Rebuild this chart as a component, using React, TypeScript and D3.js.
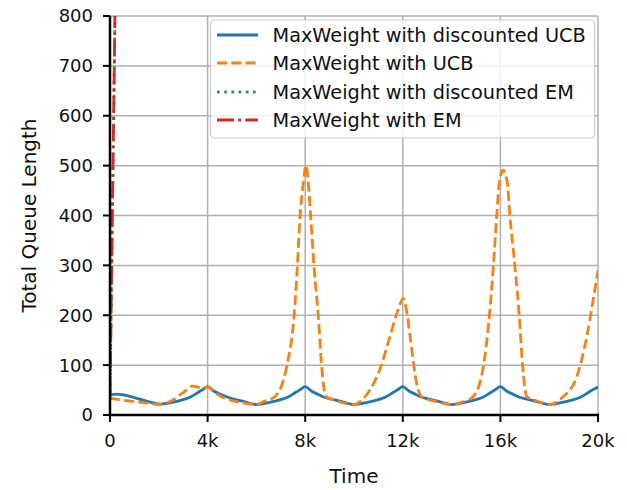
import React from "react";
import * as d3 from "d3";

const xTicks = [0, 4000, 8000, 12000, 16000, 20000];
const xTickLabels = ["0", "4k", "8k", "12k", "16k", "20k"];
const yTicks = [0, 100, 200, 300, 400, 500, 600, 700, 800];

const seriesNames = [
  "MaxWeight with discounted UCB",
  "MaxWeight with UCB",
  "MaxWeight with discounted EM",
  "MaxWeight with EM",
];

const discUcbT = [0, 250, 500, 1000, 1500, 2000, 2500, 3000, 3300, 3600, 3800, 4000,
  4250, 4500, 4750, 5000, 5500, 6000, 6500, 7000, 7300, 7600, 7800, 8000,
  8250, 8500, 8750, 9000, 9500, 10000, 10500, 11000, 11300, 11600, 11800, 12000,
  12250, 12500, 12750, 13000, 13500, 14000, 14500, 15000, 15300, 15600, 15800, 16000,
  16250, 16500, 16750, 17000, 17500, 18000, 18500, 19000, 19300, 19600, 19800, 20000];
const discUcbV = [40, 42, 41, 35, 28, 22, 25, 31, 36, 45, 51, 57,
  48, 42, 37, 33, 27, 21, 25, 31, 36, 45, 51, 57,
  48, 42, 36, 33, 27, 21, 25, 31, 36, 45, 51, 57,
  48, 42, 36, 33, 27, 21, 25, 31, 36, 45, 51, 57,
  48, 42, 36, 33, 27, 21, 25, 31, 36, 45, 51, 56];

const ucbT = [0, 500, 1000, 1500, 2000, 2500, 3000, 3400, 3700, 4000, 4300, 4600, 5000, 5500, 6000,
  6300, 6762, 7240, 7541, 7677, 7787, 7923, 8033, 8128, 8225, 8361, 8539, 8675, 8852, 9200, 9600, 10000,
  10250, 10650, 11050, 11470, 11800, 12020, 12150, 12300, 12570, 12770, 13200, 13600, 14000,
  14500, 14890, 15300, 15546, 15710, 15847, 15955, 16115, 16283, 16393, 16598, 16776, 16913, 17077, 17500, 18000,
  18580, 19130, 19540, 19800, 20000];
const ucbV = [34, 30, 27, 24, 21, 28, 45, 58, 55, 56, 45, 36, 29, 24, 21,
  27, 37, 97, 197, 297, 397, 465, 501, 465, 397, 297, 197, 97, 37, 30, 24, 21,
  27, 50, 90, 157, 210, 234, 210, 157, 63, 37, 29, 24, 21,
  27, 37, 97, 197, 297, 397, 465, 491, 465, 397, 297, 197, 97, 37, 28, 21,
  37, 77, 157, 230, 290];

const discEmT = [0, 50, 100, 150, 200, 230];
const discEmV = [30, 215, 405, 595, 785, 900];
const emT = [0, 50, 100, 150, 200, 230];
const emV = [38, 222, 412, 602, 792, 905];

const colors = ["#1f77b4", "#ff7f0e", "#2ca02c", "#d62728"];
const dashes = ["none", "10 4.3", "2.7 4.5", "17 4.3 2.7 4.3"];

export default function App() {
  const W = 627, H = 490;
  const left = 110, right = 598, top = 16, bottom = 415;
  const x = d3.scaleLinear().domain([0, 20000]).range([left, right]);
  const y = d3.scaleLinear().domain([0, 800]).range([bottom, top]);
  const line = d3.line<[number, number]>().x(d => x(d[0])).y(d => y(d[1])).curve(d3.curveMonotoneX);
  const zip = (t: number[], v: number[]) => t.map((tt, i) => [tt, v[i]] as [number, number]);
  const series = [zip(discUcbT, discUcbV), zip(ucbT, ucbV), zip(discEmT, discEmV), zip(emT, emV)];
  const font = "DejaVu Sans";
  const legX = 210.5, legY = 20, legW = 384, legH = 118;
  const rowY = [35, 63, 92, 120];

  return (
    <svg width={W} height={H} style={{ position: "absolute", left: 0, top: 0 }} fontFamily={font}>
      <rect width={W} height={H} fill="white" />
      <defs>
        <clipPath id="plot">
          <rect x={left} y={top} width={right - left} height={bottom - top} />
        </clipPath>
      </defs>
      {xTicks.map(t => (
        <line key={"gx" + t} x1={x(t)} x2={x(t)} y1={top} y2={bottom} stroke="#b0b0b0" strokeWidth={1.5} />
      ))}
      {yTicks.map(t => (
        <line key={"gy" + t} x1={left} x2={right} y1={y(t)} y2={y(t)} stroke="#b0b0b0" strokeWidth={1.5} />
      ))}
      <g clipPath="url(#plot)">
        {series.map((s, i) => (
          <path key={i} d={line(s) || ""} fill="none" stroke={colors[i]} strokeWidth={2.8}
            strokeDasharray={dashes[i]} />
        ))}
      </g>
      <line x1={left} x2={left} y1={top} y2={bottom + 1.25} stroke="black" strokeWidth={2.5} />
      <line x1={left - 1.25} x2={right + 1} y1={bottom} y2={bottom} stroke="black" strokeWidth={2.5} />
      {xTicks.map((t, i) => (
        <g key={"xt" + t}>
          <line x1={x(t)} x2={x(t)} y1={bottom} y2={bottom + 7} stroke="black" strokeWidth={2} />
          <text x={x(t)} y={447} textAnchor="middle" fontSize={18} fill="#111">{xTickLabels[i]}</text>
        </g>
      ))}
      {yTicks.map(t => (
        <g key={"yt" + t}>
          <line x1={left - 7} x2={left} y1={y(t)} y2={y(t)} stroke="black" strokeWidth={2} />
          <text x={93} y={y(t)} dy="0.36em" textAnchor="end" fontSize={18} fill="#111">{t}</text>
        </g>
      ))}
      <text x={(left + right) / 2} y={483} textAnchor="middle" fontSize={20} fill="#111">Time</text>
      <text transform={`translate(36, ${(top + bottom) / 2}) rotate(-90)`} textAnchor="middle" fontSize={20} fill="#111">
        Total Queue Length
      </text>
      <rect x={legX} y={legY} width={legW} height={legH} rx={4} fill="white" fillOpacity={0.8}
        stroke="#cccccc" strokeWidth={1.2} />
      {seriesNames.map((n, i) => (
        <g key={n}>
          <line x1={217} x2={258} y1={rowY[i]} y2={rowY[i]} stroke={colors[i]} strokeWidth={2.8}
            strokeDasharray={dashes[i]} />
          <text x={272.5} y={rowY[i]} dy="0.36em" fontSize={19.3} fill="#111">{n}</text>
        </g>
      ))}
    </svg>
  );
}
